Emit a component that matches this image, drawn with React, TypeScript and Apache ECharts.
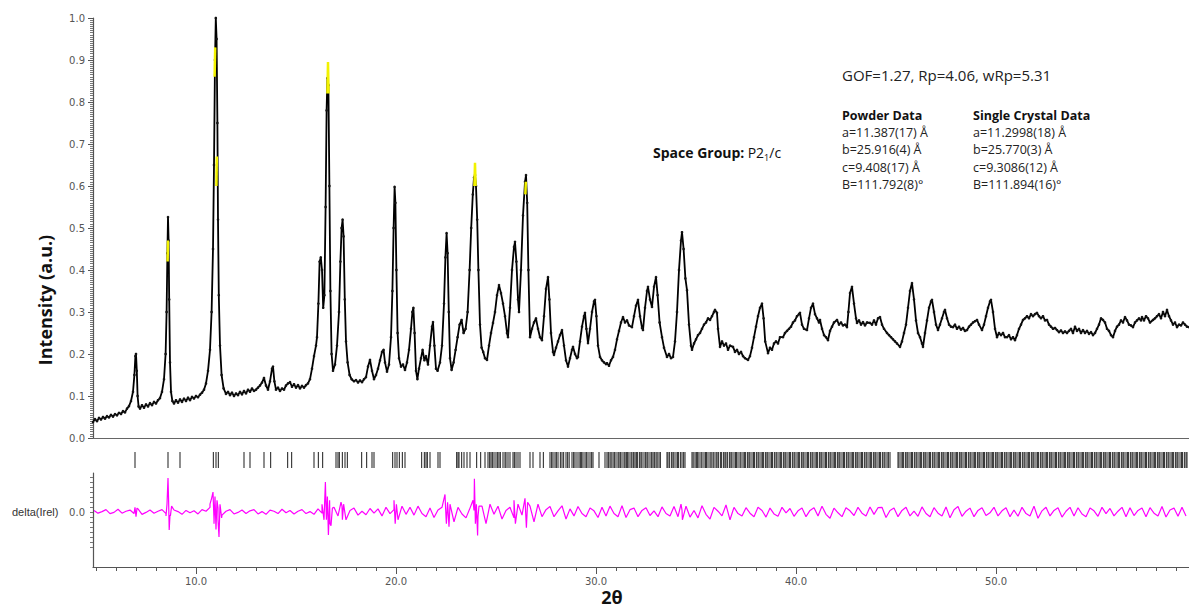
import React, { useEffect, useRef } from "react";
import * as echarts from "echarts";

// ---------- data ----------
const xMin = 4.85;
const xMax = 59.65;
const xTickLabels = [10, 20, 30, 40, 50];
const yTickLabels = [0, 0.1, 0.2, 0.3, 0.4, 0.5, 0.6, 0.7, 0.8, 0.9, 1.0];

// observed intensity profile [2theta, I]
const observed: [number, number][] = [
  [4.85,0.038],[4.95,0.045],[5.05,0.040],[5.15,0.048],[5.25,0.044],[5.35,0.050],[5.45,0.046],[5.55,0.052],[5.65,0.049],[5.75,0.055],
  [5.85,0.051],[5.95,0.057],[6.05,0.054],[6.15,0.060],[6.25,0.057],[6.35,0.064],[6.45,0.061],[6.55,0.070],[6.65,0.076],[6.75,0.088],
  [6.85,0.110],[6.92,0.150],[6.97,0.195],[7.0,0.200],[7.04,0.160],[7.08,0.100],[7.13,0.075],[7.2,0.070],[7.3,0.078],[7.4,0.072],
  [7.5,0.080],[7.6,0.075],[7.7,0.083],[7.8,0.078],[7.9,0.086],[8.0,0.082],[8.1,0.090],[8.2,0.095],[8.3,0.110],[8.4,0.140],
  [8.48,0.200],[8.53,0.300],[8.57,0.440],[8.6,0.526],[8.63,0.470],[8.66,0.330],[8.7,0.180],[8.75,0.110],[8.82,0.088],[8.9,0.082],
  [9.0,0.090],[9.1,0.084],[9.2,0.092],[9.3,0.086],[9.4,0.094],[9.5,0.088],[9.6,0.096],[9.7,0.090],[9.8,0.098],[9.9,0.094],
  [10.0,0.100],[10.1,0.097],[10.2,0.103],[10.3,0.108],[10.4,0.115],[10.5,0.130],[10.6,0.160],[10.7,0.210],[10.78,0.300],[10.85,0.450],
  [10.9,0.650],[10.95,0.900],[10.99,1.0],[11.03,0.95],[11.07,0.75],[11.1,0.52],[11.14,0.34],[11.2,0.22],[11.28,0.15],[11.38,0.118],
  [11.5,0.105],[11.6,0.110],[11.7,0.102],[11.8,0.108],[11.9,0.100],[12.0,0.106],[12.1,0.102],[12.2,0.110],[12.3,0.104],[12.4,0.112],
  [12.5,0.106],[12.6,0.115],[12.7,0.110],[12.8,0.118],[12.9,0.112],[13.0,0.115],[13.1,0.120],[13.2,0.125],[13.3,0.132],[13.4,0.143],
  [13.5,0.125],[13.6,0.115],[13.7,0.135],[13.8,0.165],[13.85,0.170],[13.92,0.135],[14.0,0.115],[14.1,0.120],[14.2,0.112],[14.3,0.118],
  [14.4,0.115],[14.5,0.125],[14.6,0.130],[14.7,0.133],[14.8,0.122],[14.9,0.128],[15.0,0.120],[15.1,0.126],[15.2,0.118],[15.3,0.124],
  [15.4,0.120],[15.5,0.126],[15.6,0.130],[15.7,0.140],[15.8,0.165],[15.9,0.195],[16.0,0.220],[16.05,0.240],[16.12,0.320],[16.18,0.420],
  [16.24,0.430],[16.3,0.400],[16.36,0.310],[16.42,0.340],[16.48,0.550],[16.53,0.780],[16.57,0.857],[16.62,0.840],[16.67,0.600],[16.72,0.350],
  [16.78,0.200],[16.85,0.160],[16.95,0.175],[17.05,0.220],[17.15,0.300],[17.22,0.420],[17.28,0.500],[17.33,0.520],[17.38,0.480],[17.44,0.330],
  [17.5,0.230],[17.58,0.180],[17.68,0.150],[17.78,0.140],[17.9,0.135],[18.0,0.138],[18.1,0.132],[18.2,0.137],[18.3,0.133],[18.4,0.140],
  [18.5,0.145],[18.6,0.170],[18.7,0.186],[18.8,0.160],[18.9,0.140],[19.0,0.150],[19.1,0.165],[19.2,0.185],[19.3,0.205],[19.38,0.210],
  [19.45,0.180],[19.55,0.158],[19.65,0.175],[19.75,0.240],[19.82,0.350],[19.88,0.500],[19.93,0.598],[19.97,0.560],[20.02,0.400],[20.08,0.250],
  [20.15,0.190],[20.25,0.170],[20.35,0.175],[20.45,0.162],[20.55,0.180],[20.65,0.210],[20.75,0.260],[20.82,0.300],[20.87,0.310],[20.93,0.250],
  [21.0,0.160],[21.07,0.140],[21.15,0.165],[21.25,0.190],[21.33,0.210],[21.42,0.185],[21.5,0.195],[21.6,0.175],[21.7,0.220],[21.8,0.265],
  [21.85,0.276],[21.92,0.220],[22.0,0.165],[22.08,0.160],[22.2,0.180],[22.3,0.220],[22.4,0.320],[22.47,0.430],[22.53,0.488],[22.58,0.440],
  [22.64,0.300],[22.7,0.190],[22.78,0.162],[22.88,0.180],[22.98,0.210],[23.08,0.240],[23.18,0.270],[23.28,0.281],[23.38,0.250],[23.48,0.260],
  [23.58,0.300],[23.68,0.400],[23.76,0.500],[23.84,0.580],[23.9,0.620],[23.95,0.626],[24.0,0.600],[24.06,0.520],[24.12,0.400],[24.2,0.270],
  [24.28,0.215],[24.36,0.205],[24.45,0.190],[24.55,0.186],[24.65,0.22],[24.75,0.25],[24.85,0.274],[24.95,0.30],[25.05,0.34],[25.15,0.364],
  [25.25,0.345],[25.35,0.32],[25.45,0.29],[25.55,0.25],[25.6,0.24],[25.7,0.31],[25.8,0.40],[25.9,0.455],[25.95,0.467],[26.02,0.42],
  [26.1,0.33],[26.15,0.30],[26.25,0.40],[26.35,0.53],[26.45,0.61],[26.5,0.626],[26.56,0.56],[26.62,0.40],[26.7,0.24],[26.8,0.26],
  [26.9,0.275],[27.0,0.285],[27.1,0.26],[27.2,0.24],[27.3,0.233],[27.4,0.29],[27.5,0.355],[27.6,0.383],[27.67,0.33],[27.75,0.25],
  [27.85,0.205],[27.9,0.198],[28.0,0.215],[28.1,0.23],[28.2,0.245],[28.3,0.257],[28.4,0.22],[28.5,0.185],[28.6,0.17],[28.7,0.19],
  [28.8,0.21],[28.85,0.217],[28.95,0.20],[29.05,0.19],[29.1,0.193],[29.2,0.23],[29.3,0.265],[29.4,0.29],[29.45,0.298],[29.52,0.26],
  [29.6,0.226],[29.7,0.26],[29.8,0.30],[29.9,0.325],[29.95,0.329],[30.02,0.29],[30.1,0.22],[30.2,0.193],[30.3,0.185],[30.4,0.18],
  [30.5,0.176],[30.55,0.178],[30.65,0.172],[30.75,0.185],[30.85,0.193],[30.95,0.21],[31.05,0.235],[31.15,0.255],[31.25,0.275],[31.35,0.288],
  [31.45,0.275],[31.55,0.28],[31.65,0.268],[31.8,0.264],[31.9,0.29],[32.0,0.315],[32.1,0.329],[32.2,0.29],[32.3,0.262],[32.35,0.257],
  [32.45,0.31],[32.55,0.35],[32.6,0.36],[32.7,0.33],[32.8,0.312],[32.9,0.36],[33.0,0.383],[33.08,0.34],[33.18,0.275],[33.3,0.24],
  [33.4,0.215],[33.55,0.193],[33.65,0.2],[33.75,0.19],[33.85,0.193],[33.95,0.23],[34.05,0.30],[34.15,0.40],[34.25,0.47],[34.3,0.49],
  [34.38,0.45],[34.47,0.38],[34.55,0.352],[34.65,0.27],[34.75,0.22],[34.8,0.21],[34.9,0.225],[35.0,0.235],[35.1,0.245],[35.2,0.25],
  [35.3,0.26],[35.4,0.27],[35.5,0.275],[35.6,0.285],[35.7,0.281],[35.8,0.29],[35.9,0.30],[35.95,0.305],[36.05,0.298],[36.1,0.26],
  [36.2,0.217],[36.3,0.23],[36.4,0.22],[36.5,0.225],[36.6,0.21],[36.7,0.22],[36.85,0.217],[36.95,0.205],[37.05,0.21],[37.15,0.2],
  [37.25,0.205],[37.35,0.195],[37.45,0.19],[37.6,0.186],[37.7,0.195],[37.8,0.215],[37.9,0.24],[38.0,0.265],[38.1,0.29],[38.2,0.31],
  [38.3,0.32],[38.38,0.285],[38.46,0.23],[38.6,0.202],[38.7,0.215],[38.8,0.21],[38.9,0.225],[39.0,0.23],[39.1,0.225],[39.2,0.24],
  [39.35,0.24],[39.45,0.25],[39.55,0.255],[39.65,0.26],[39.75,0.265],[39.85,0.275],[39.95,0.28],[40.05,0.29],[40.15,0.295],[40.2,0.298],
  [40.3,0.27],[40.4,0.26],[40.55,0.257],[40.65,0.285],[40.75,0.31],[40.85,0.32],[40.95,0.295],[41.05,0.285],[41.15,0.275],[41.2,0.281],
  [41.3,0.26],[41.4,0.245],[41.5,0.24],[41.6,0.233],[41.7,0.255],[41.8,0.265],[41.9,0.275],[42.05,0.281],[42.15,0.27],[42.25,0.275],
  [42.35,0.268],[42.45,0.27],[42.55,0.264],[42.62,0.30],[42.7,0.345],[42.8,0.36],[42.9,0.32],[43.0,0.285],[43.05,0.274],[43.15,0.28],
  [43.25,0.27],[43.35,0.276],[43.45,0.268],[43.55,0.275],[43.7,0.274],[43.8,0.27],[43.9,0.28],[44.0,0.27],[44.1,0.285],[44.2,0.288],
  [44.3,0.27],[44.4,0.26],[44.55,0.25],[44.65,0.245],[44.75,0.24],[44.85,0.235],[44.95,0.23],[45.05,0.225],[45.2,0.217],[45.3,0.23],
  [45.4,0.25],[45.5,0.27],[45.6,0.31],[45.7,0.35],[45.8,0.369],[45.9,0.33],[46.0,0.28],[46.1,0.25],[46.2,0.24],[46.3,0.225],
  [46.35,0.217],[46.45,0.25],[46.55,0.28],[46.65,0.31],[46.75,0.325],[46.8,0.329],[46.9,0.3],[47.0,0.27],[47.1,0.257],[47.2,0.27],
  [47.3,0.285],[47.4,0.3],[47.45,0.305],[47.55,0.285],[47.65,0.27],[47.75,0.265],[47.85,0.264],[47.95,0.27],[48.05,0.26],[48.15,0.265],
  [48.25,0.258],[48.35,0.262],[48.45,0.255],[48.55,0.257],[48.65,0.265],[48.75,0.27],[48.85,0.275],[48.95,0.278],[49.05,0.281],[49.15,0.27],
  [49.3,0.257],[49.4,0.27],[49.5,0.29],[49.6,0.31],[49.7,0.325],[49.75,0.329],[49.85,0.3],[49.95,0.26],[50.05,0.24],[50.15,0.25],
  [50.25,0.245],[50.35,0.25],[50.45,0.24],[50.55,0.24],[50.65,0.245],[50.75,0.235],[50.85,0.24],[50.95,0.233],[51.05,0.245],[51.15,0.26],
  [51.25,0.27],[51.35,0.281],[51.45,0.285],[51.55,0.29],[51.65,0.285],[51.75,0.295],[51.85,0.29],[51.95,0.295],[52.05,0.298],[52.15,0.29],
  [52.25,0.285],[52.35,0.29],[52.45,0.28],[52.55,0.281],[52.65,0.27],[52.75,0.265],[52.85,0.26],[52.95,0.262],[53.05,0.257],[53.15,0.252],
  [53.25,0.256],[53.35,0.25],[53.45,0.254],[53.55,0.25],[53.65,0.255],[53.75,0.26],[53.85,0.25],[53.95,0.265],[54.05,0.255],[54.15,0.26],
  [54.25,0.25],[54.35,0.257],[54.45,0.25],[54.55,0.255],[54.65,0.248],[54.75,0.252],[54.85,0.245],[54.95,0.25],[55.05,0.26],[55.15,0.27],
  [55.25,0.285],[55.35,0.281],[55.45,0.275],[55.55,0.26],[55.65,0.255],[55.75,0.245],[55.85,0.24],[55.95,0.255],[56.05,0.265],[56.15,0.27],
  [56.25,0.28],[56.35,0.275],[56.45,0.288],[56.55,0.28],[56.65,0.27],[56.75,0.268],[56.85,0.264],[56.95,0.275],[57.05,0.28],[57.15,0.285],
  [57.25,0.28],[57.3,0.288],[57.4,0.28],[57.5,0.29],[57.6,0.285],[57.7,0.275],[57.85,0.281],[57.95,0.285],[58.05,0.29],[58.15,0.295],
  [58.25,0.285],[58.35,0.3],[58.45,0.29],[58.55,0.305],[58.65,0.29],[58.75,0.28],[58.85,0.27],[58.95,0.275],[59.05,0.264],[59.15,0.27],
  [59.25,0.268],[59.35,0.275],[59.45,0.27],[59.55,0.265],[59.65,0.264],
];

// calculated profile, visible where it departs from the observed one
const calcSegments: [number, number][][] = [
  [[8.58,0.42],[8.6,0.47]],
  [[10.93,0.86],[10.96,0.93]],
  [[11.02,0.6],[11.04,0.67]],
  [[16.57,0.82],[16.6,0.895],[16.63,0.82]],
  [[23.92,0.6],[23.95,0.655],[23.98,0.6]],
  [[26.47,0.58],[26.49,0.61]],
];

// difference curve: base samples every 0.2 deg from 4.9, plus peak spikes
const deltaStart = 4.9;
const deltaStep = 0.2;
const deltaBase = [
  0.004,-0.003,0.001,0.006,-0.004,-0.001,0.007,-0.003,0.002,0.005,
  -0.004,0.008,-0.006,-0.001,0.005,-0.003,0.002,0.006,-0.004,-0.008,
  0.005,0.001,-0.006,0.004,-0.002,0.003,-0.005,0.006,0.002,0.012,
  -0.02,0.01,-0.008,0.002,0.006,-0.005,-0.001,0.005,-0.004,0.003,
  0.006,-0.005,0.001,-0.006,0.005,0.002,-0.004,0.007,-0.002,0.004,
  -0.005,0.002,0.006,-0.004,0.001,-0.006,0.008,-0.003,0.015,-0.03,
  0.012,-0.01,0.015,-0.02,0.004,0.01,-0.008,0.002,-0.007,0.009,
  -0.003,0.008,-0.01,0.012,-0.004,0.006,-0.02,0.015,-0.006,0.012,
  -0.008,0.015,-0.004,-0.012,0.01,-0.014,0.005,0.012,-0.012,0.02,
  -0.025,0.012,-0.005,-0.015,0.01,0.004,-0.012,0.015,-0.03,0.02,
  -0.006,0.015,-0.018,0.004,0.012,-0.015,0.02,-0.008,-0.02,0.015,
  -0.025,0.02,-0.012,0.006,0.014,-0.012,0.003,0.016,-0.018,0.008,
  -0.01,0.014,-0.004,-0.012,0.01,0.003,-0.014,0.012,-0.01,0.015,
  -0.004,-0.012,0.016,-0.014,0.006,0.01,-0.012,0.004,0.011,-0.009,
  0.003,-0.012,0.013,-0.004,-0.01,0.014,-0.012,0.005,0.015,-0.013,
  0.004,-0.015,0.016,-0.006,-0.018,0.012,0.002,-0.01,0.018,-0.02,
  0.012,-0.004,-0.01,0.011,-0.003,-0.012,0.012,0.004,-0.013,0.01,
  -0.005,-0.011,0.012,-0.002,0.009,-0.011,0.003,0.01,-0.012,0.004,
  0.011,-0.01,0.015,-0.006,-0.016,0.01,-0.002,-0.012,0.011,0.003,
  -0.009,0.012,-0.003,-0.01,0.013,-0.006,0.011,0.012,-0.014,0.004,
  0.01,-0.012,0.004,0.012,-0.01,0.002,-0.011,0.013,-0.004,-0.012,
  0.011,-0.003,-0.01,0.013,-0.015,0.006,0.014,-0.011,0.002,0.01,
  -0.012,0.004,0.011,-0.009,-0.002,0.012,-0.01,0.003,0.011,-0.012,
  0.005,-0.011,0.012,-0.004,-0.01,0.015,-0.016,0.003,0.012,-0.01,
  0.004,0.011,-0.013,0.002,0.012,-0.01,0.011,-0.005,-0.012,0.01,
  0.003,-0.011,0.012,-0.004,0.009,-0.01,0.002,0.012,-0.012,0.011,
  -0.009,0.004,0.01,-0.012,0.011,-0.003,-0.01,0.014,-0.013,0.005,
  0.01,-0.011,0.012,-0.01,
];
const deltaSpikes: [number, number][] = [
  [6.95,0.012],[7.0,-0.012],[7.05,0.01],
  [8.5,-0.01],[8.55,0.02],[8.6,0.087],[8.63,0.03],[8.66,-0.046],[8.72,-0.01],[8.78,0.015],
  [10.7,0.02],[10.78,0.035],[10.85,0.051],[10.9,-0.03],[10.95,0.04],[11.0,-0.045],[11.05,0.03],[11.1,-0.02],[11.15,-0.064],[11.2,0.02],[11.28,-0.015],
  [16.3,0.02],[16.4,-0.02],[16.47,0.077],[16.52,-0.02],[16.57,0.04],[16.62,-0.059],[16.68,0.03],[16.75,-0.035],[16.82,0.01],
  [17.25,0.025],[17.32,-0.02],[17.38,0.02],
  [19.9,0.03],[19.96,-0.03],[20.02,0.02],
  [22.45,0.045],[22.52,-0.03],[22.58,0.025],[22.65,-0.038],
  [23.85,0.03],[23.92,0.085],[23.97,-0.03],[24.02,0.02],[24.08,-0.06],[24.15,0.015],
  [25.9,0.03],[25.97,-0.03],[26.45,0.035],[26.52,-0.04],[26.58,0.025],
  [34.25,0.02],[34.32,-0.02],
];

// reflection (hkl) positions
const reflections = [
  6.95,8.6,9.2,10.87,11.0,11.12,12.4,12.7,13.4,13.73,14.58,14.78,15.9,16.12,16.33,
  17.0,17.1,17.17,17.32,17.45,17.57,18.28,18.53,18.8,18.9,19.83,19.95,20.05,20.17,20.32,20.45,
  21.28,21.42,21.5,21.57,21.7,22.1,22.2,23.03,23.1,23.15,23.28,23.4,23.55,23.7,24.03,24.23,24.45,
  24.6,24.68,24.75,24.82,24.9,25.0,25.08,25.15,25.22,25.35,25.45,25.5,25.6,25.7,25.85,25.92,26.0,26.1,26.2,
  26.7,26.85,27.2,27.37,27.7,27.78,27.85,27.95,28.02,28.1,28.22,28.3,28.38,28.5,28.58,28.66,28.8,28.88,
  28.95,29.05,29.15,29.22,29.28,29.35,29.45,29.52,29.6,29.7,29.78,29.85,30.15,
  30.45,30.55,30.62,30.7,30.76,30.85,30.92,31.0,31.1,31.15,31.22,31.3,31.4,31.45,31.52,31.58,31.65,31.75,
  31.8,31.88,31.95,32.02,32.08,32.18,32.25,32.3,32.4,32.48,32.55,32.6,32.7,32.78,32.85,32.92,33.0,33.06,33.15,33.22,
  33.55,33.6,33.68,33.78,33.85,33.9,34.0,34.08,34.12,34.22,34.3,34.38,34.45,
  34.8,34.86,34.95,35.02,35.08,35.15,35.25,35.3,35.4,35.48,35.52,35.6,35.7,35.76,35.85,35.9,36.0,36.05,36.12,36.22,
  36.28,36.38,36.45,36.5,36.58,36.68,36.75,36.8,36.9,36.98,37.02,37.1,37.2,37.25,37.35,37.42,37.48,37.58,37.65,37.7,
  37.8,37.88,37.92,38.02,38.1,38.15,38.25,38.32,38.38,38.48,38.55,38.6,38.7,38.78,38.82,38.92,39.0,39.05,39.15,39.22,
  39.28,39.38,39.45,39.5,39.6,39.68,39.72,39.82,39.9,39.95,40.05,40.12,40.18,40.28,40.35,40.4,40.5,40.58,40.62,40.72,
  40.8,40.85,40.95,41.02,41.08,41.18,41.25,41.3,41.4,41.48,41.52,41.62,41.7,41.75,41.85,41.92,41.98,42.08,42.15,42.2,
  42.3,42.38,42.42,42.52,42.6,42.65,42.75,42.82,42.88,42.98,43.05,43.1,43.2,43.28,43.32,43.42,43.5,43.55,43.65,43.72,
  43.78,43.88,43.95,44.0,44.1,44.18,44.22,44.32,44.4,44.45,44.55,44.62,44.7,
  45.1,45.15,45.25,45.32,45.38,45.48,45.55,45.6,45.7,45.78,45.82,45.92,46.0,46.05,46.15,46.22,46.28,46.38,46.45,46.5,
  46.6,46.68,46.72,46.82,46.9,46.95,47.05,47.12,47.18,47.28,47.35,47.4,47.5,47.58,47.62,47.72,47.8,47.85,47.95,48.02,
  48.08,48.18,48.25,48.3,48.4,48.48,48.52,48.62,48.7,48.75,48.85,48.92,48.98,49.08,49.15,49.2,49.3,49.38,49.42,49.52,
  49.6,49.65,49.75,49.82,49.88,49.98,50.05,50.1,50.2,50.28,50.32,50.42,50.5,50.55,50.65,50.72,50.78,50.88,50.95,51.0,
  51.1,51.18,51.22,51.32,51.4,51.45,51.55,51.62,51.68,51.78,51.85,51.9,52.0,52.08,52.12,52.22,52.3,52.35,52.45,52.52,
  52.58,52.68,52.75,52.8,52.9,52.98,53.02,53.12,53.2,53.25,53.35,53.42,53.48,53.58,53.65,53.7,53.8,53.88,53.92,54.02,
  54.1,54.15,54.25,54.32,54.38,54.48,54.55,54.6,54.7,54.78,54.82,54.92,55.0,55.05,55.15,55.22,55.28,55.38,55.45,55.5,
  55.6,55.68,55.72,55.82,55.9,55.95,56.05,56.12,56.18,56.28,56.35,56.4,56.5,56.58,56.62,56.72,56.8,56.85,56.95,57.02,
  57.08,57.18,57.25,57.3,57.4,57.48,57.52,57.62,57.7,57.75,57.85,57.92,57.98,58.08,58.15,58.2,58.3,58.38,58.42,58.52,
  58.6,58.65,58.75,58.82,58.88,58.98,59.05,59.1,59.2,59.28,59.32,59.42,59.5,59.55,
];

const annotationGof = "GOF=1.27, Rp=4.06, wRp=5.31";
const powderHeader = "Powder Data";
const powderLines = ["a=11.387(17) Å", "b=25.916(4) Å", "c=9.408(17) Å", "B=111.792(8)°"];
const crystalHeader = "Single Crystal Data";
const crystalLines = ["a=11.2998(18) Å", "b=25.770(3) Å", "c=9.3086(12) Å", "B=111.894(16)°"];

export default function App() {
  const ref = useRef<HTMLDivElement>(null);
  useEffect(() => {
    if (!ref.current) return;
    const chart = echarts.init(ref.current, undefined, { renderer: "svg" });

    const deltaPoints = [
      ...deltaBase.map((v, i) => [Math.round((deltaStart + i * deltaStep) * 100) / 100, v]),
      ...deltaSpikes,
    ].sort((a, b) => a[0] - b[0]);

    const intTicks: number[] = [];
    for (let t = 5; t <= 59; t++) intTicks.push(t);
    const deltaMinorTicks: number[] = [];
    for (let k = -7; k <= 8; k++) deltaMinorTicks.push(k * 0.0128);

    const axisGray = "#555";
    const labelFont = { color: "#555", fontFamily: "DejaVu Sans", fontSize: 10 };
    const L = 93, W = 1096;

    const textEl = (x: number, y: number, text: string, font: string, fill = "#1a1a1a", align = "left") => ({
      type: "text", x, y, silent: true,
      style: { text, font, fill, textAlign: align, textVerticalAlign: "middle" },
    });

    const graphics: any[] = [
      {
        type: "text", x: 45, y: 300, rotation: Math.PI / 2, silent: true,
        style: { text: "Intensity (a.u.)", font: 'bold 18px "Open Sans"', fill: "#111", textAlign: "center", textVerticalAlign: "middle" },
      },
      textEl(612, 597, "2θ", 'bold 18px "Open Sans"', "#111", "center"),
      textEl(12, 512, "delta(Irel)", '11px "Liberation Sans"', "#333"),
      textEl(842, 75, annotationGof, '15px "Open Sans"', "#222"),
      textEl(842, 115, powderHeader, 'bold 12.5px "Open Sans"', "#111"),
      textEl(973, 115, crystalHeader, 'bold 12.5px "Open Sans"', "#111"),
      ...powderLines.map((t, i) => textEl(842, 132 + i * 17.5, t, '12.5px "Open Sans"', "#222")),
      ...crystalLines.map((t, i) => textEl(973, 132 + i * 17.5, t, '12.5px "Open Sans"', "#222")),
      {
        type: "text", x: 653, y: 152, silent: true,
        style: {
          text: "{b|Space Group:} {r|P2}{s|1}{r|/c}",
          textVerticalAlign: "middle",
          rich: {
            b: { font: 'bold 14px "Open Sans"', fill: "#111", lineHeight: 20, verticalAlign: "middle" },
            r: { font: '14px "Open Sans"', fill: "#111", lineHeight: 20, verticalAlign: "middle" },
            s: { font: '9px "Open Sans"', fill: "#111", lineHeight: 20, verticalAlign: "bottom" },
          },
        },
      },
    ];

    const series: any[] = [
      {
        type: "line", xAxisIndex: 0, yAxisIndex: 0, data: observed,
        showSymbol: true, showAllSymbol: true, symbol: "circle", symbolSize: 2.6,
        itemStyle: { color: "#111" },
        lineStyle: { color: "#000", width: 1.8 }, z: 2,
      },
      ...calcSegments.map((seg) => ({
        type: "line", xAxisIndex: 0, yAxisIndex: 0, data: seg, showSymbol: false,
        lineStyle: { color: "#f2f200", width: 2.5 }, z: 3,
      })),
      {
        type: "scatter", xAxisIndex: 1, yAxisIndex: 1,
        data: reflections.map((r) => [r, 0.5]),
        symbol: "rect", symbolSize: [1.2, 16],
        itemStyle: { color: "#111" }, z: 2,
      },
      {
        type: "line", xAxisIndex: 2, yAxisIndex: 2, data: deltaPoints, showSymbol: false,
        lineStyle: { color: "#ff00ff", width: 1.2 }, z: 2,
      },
    ];

    chart.setOption({
      animation: false,
      backgroundColor: "#fff",
      grid: [
        { left: L, top: 18, width: W, height: 420 },
        { left: L, top: 450, width: W, height: 20 },
        { left: L, top: 473, width: W, height: 94 },
        { left: L, top: 473, width: W, height: 94 },
      ],
      xAxis: [
        {
          type: "value", gridIndex: 0, min: xMin, max: xMax, position: "top",
          axisLine: { show: true, lineStyle: { color: "#666", width: 1 } },
          axisTick: { show: false }, axisLabel: { show: false }, splitLine: { show: false },
        },
        {
          type: "value", gridIndex: 1, min: xMin, max: xMax, show: false,
        },
        {
          type: "value", gridIndex: 2, min: xMin, max: xMax, position: "bottom",
          axisLine: { show: true, onZero: false, lineStyle: { color: axisGray, width: 1.2 } },
          axisTick: { show: true, customValues: intTicks, length: 4, lineStyle: { color: axisGray } },
          axisLabel: {
            show: true, customValues: xTickLabels, formatter: (v: number) => v.toFixed(1),
            margin: 9, ...labelFont,
          },
          splitLine: { show: false },
        },
        {
          type: "value", gridIndex: 3, min: xMin, max: xMax, position: "bottom",
          axisLine: { show: false, onZero: false },
          axisTick: { show: true, customValues: xTickLabels, length: 7, lineStyle: { color: axisGray } },
          axisLabel: { show: false }, splitLine: { show: false },
        },
      ],
      yAxis: [
        {
          type: "value", gridIndex: 0, min: 0, max: 1, interval: 0.1, position: "left",
          axisLine: { show: true, lineStyle: { color: axisGray, width: 1.2 } },
          axisTick: { show: true, length: 5, lineStyle: { color: axisGray } },
          minorTick: { show: true, splitNumber: 20, length: 3, lineStyle: { color: "#777" } },
          axisLabel: { formatter: (v: number) => v.toFixed(1), margin: 8, ...labelFont },
          splitLine: { show: false }, minorSplitLine: { show: false },
        },
        { type: "value", gridIndex: 1, min: 0, max: 1, show: false },
        {
          type: "value", gridIndex: 2, min: -0.141, max: 0.1, position: "left",
          axisLine: { show: true, onZero: false, lineStyle: { color: axisGray, width: 1.2 } },
          axisTick: { show: true, customValues: deltaMinorTicks, length: 3, lineStyle: { color: "#777" } },
          axisLabel: { show: true, customValues: [0], formatter: () => "0.0", margin: 8, ...labelFont },
          splitLine: { show: false },
        },
        { type: "value", gridIndex: 3, min: -0.141, max: 0.1, show: false },
      ],
      graphic: graphics,
      series,
    });

    return () => chart.dispose();
  }, []);

  return (
    <div
      ref={ref}
      style={{ position: "fixed", left: 0, top: 0, width: 1189, height: 609, background: "#fff" }}
    />
  );
}
